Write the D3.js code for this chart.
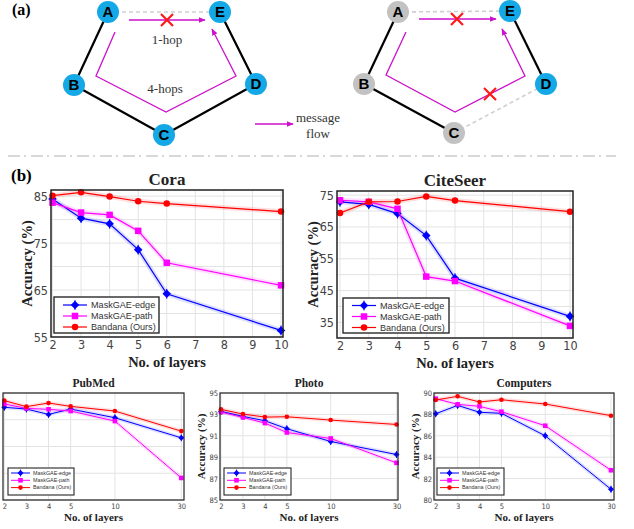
<!DOCTYPE html>
<html>
<head>
<meta charset="utf-8">
<script src="https://cdn.jsdelivr.net/npm/d3@7"></script>
<style>
  body { margin: 0; background: #fff; }
  svg { display: block; }
</style>
</head>
<body>
<div id="fig"></div>
<script>
// ---- data ----
var layersTop = [2, 3, 4, 5, 6, 10];
var layersBottom = [2, 3, 4, 5, 10, 30];
var topTicks = [2, 3, 4, 5, 6, 7, 8, 9, 10];
var seriesNames = ["MaskGAE-edge", "MaskGAE-path", "Bandana (Ours)"];

var coraEdge = [84.4, 80.3, 79.1, 73.6, 64.2, 56.4];
var coraPath = [83.6, 81.5, 81.0, 77.6, 70.8, 66.0];
var coraOurs = [85.1, 85.8, 84.9, 83.9, 83.4, 81.7];

var citeEdge = [72.9, 72.1, 69.2, 62.3, 48.9, 36.9];
var citePath = [73.4, 72.9, 70.7, 49.4, 48.0, 33.9];
var citeOurs = [69.4, 72.9, 73.0, 74.6, 73.3, 69.8];

var pubEdge = [84.93, 84.80, 84.40, 84.80, 84.15, 82.65];
var pubPath = [85.18, 84.85, 84.78, 84.65, 83.90, 79.65];
var pubOurs = [85.43, 84.98, 85.25, 85.00, 84.65, 83.15];

var photoEdge = [93.28, 92.81, 92.41, 91.66, 90.47, 89.25];
var photoPath = [93.22, 92.72, 92.19, 91.31, 90.75, 88.47];
var photoOurs = [93.47, 93.03, 92.75, 92.78, 92.47, 92.06];

var compEdge = [88.06, 88.84, 88.20, 88.10, 86.00, 81.00];
var compPath = [89.47, 88.94, 88.75, 88.25, 86.94, 82.78];
var compOurs = [89.34, 89.69, 89.16, 89.37, 88.97, 87.88];

var coraTicks = [55, 65, 75, 85];
var citeTicks = [35, 45, 55, 65, 75];
var pubTicks = [78, 80, 82, 84, 86];
var photoTicks = [85, 87, 89, 91, 93, 95];
var compTicks = [80, 82, 84, 86, 88, 90];

// ---- style ----
var colors = ["#0000ff", "#ff00ff", "#ff0000"];
var serif = "'Liberation Serif','Times New Roman',serif";
var sans = "'Liberation Sans',Arial,sans-serif";
var narrow = "'Liberation Sans Narrow','DejaVu Sans Condensed','Liberation Sans',sans-serif";
var blue = "#14a8e6", grey = "#c2c2c2", mag = "#cc11cc";

var W = 634, H = 529;
var svg = d3.select("#fig").append("svg").attr("width", W).attr("height", H);

// ================= (a) graph diagram =================
var nodeNames = ["A", "B", "C", "D", "E"];
var nodePos = [[108, 12], [74, 85], [164, 135], [256, 84], [220, 12]];

var defs = svg.append("defs");
defs.append("marker").attr("id", "ah")
   .attr("viewBox", "0 0 10 10").attr("refX", 9).attr("refY", 5)
   .attr("markerWidth", 7).attr("markerHeight", 7).attr("orient", "auto")
   .attr("markerUnits", "userSpaceOnUse")
   .append("path").attr("d", "M0,1 L10,5 L0,9 Z").attr("fill", mag);

svg.append("text").attr("x", 12).attr("y", 15).text("(a)")
   .attr("font-family", serif).attr("font-weight", "bold").attr("font-size", 16);

function drawGraph(dx, dyList, dashed, greyNodes, arrowTop, arrowLong, crosses){
   var g = svg.append("g");
   var pos = nodePos.map(function(p, i){ return [p[0] + dx, p[1] + dyList[i]]; });
   var edges = [[0,1],[1,2],[2,3],[3,4],[0,4]];
   edges.forEach(function(e){
      var key = nodeNames[e[0]] + nodeNames[e[1]];
      var isDash = dashed.indexOf(key) != -1;
      g.append("line")
         .attr("x1", pos[e[0]][0]).attr("y1", pos[e[0]][1])
         .attr("x2", pos[e[1]][0]).attr("y2", pos[e[1]][1])
         .attr("stroke", isDash ? "#cfcfcf" : "#000")
         .attr("stroke-width", isDash ? 1.6 : 2.2)
         .attr("stroke-dasharray", isDash ? "4,3" : null);
   });
   var line = d3.line();
   g.append("path").attr("d", line(arrowTop)).attr("fill", "none")
      .attr("stroke", mag).attr("stroke-width", 1.3).attr("marker-end", "url(#ah)");
   g.append("path").attr("d", line(arrowLong)).attr("fill", "none")
      .attr("stroke", mag).attr("stroke-width", 1.3).attr("marker-end", "url(#ah)");
   crosses.forEach(function(c){
      g.append("path")
         .attr("d", "M" + (c[0]-6) + "," + (c[1]-6) + "L" + (c[0]+6) + "," + (c[1]+6) +
                    "M" + (c[0]+6) + "," + (c[1]-6) + "L" + (c[0]-6) + "," + (c[1]+6))
         .attr("stroke", "#ff1a1a").attr("stroke-width", 2.2);
   });
   pos.forEach(function(p, i){
      g.append("circle").attr("cx", p[0]).attr("cy", p[1]).attr("r", 11)
         .attr("fill", greyNodes.indexOf(nodeNames[i]) != -1 ? grey : blue);
      g.append("text").attr("x", p[0]).attr("y", p[1] + 5).attr("text-anchor", "middle")
         .attr("font-family", sans).attr("font-weight", "bold").attr("font-size", 15)
         .text(nodeNames[i]);
   });
   return g;
}

drawGraph(0, [0,0,0,0,0], ["AE"], [],
   [[129, 20], [205, 20]],
   [[115, 32], [96, 76], [166, 112], [236, 76], [212, 29]],
   [[167, 20]]);
drawGraph(290, [0,-1,-2,0,-1], ["AE", "CD"], ["A", "B", "C"],
   [[419, 19], [496, 19]],
   [[406, 32], [386, 75], [455, 112], [525, 76], [502, 29]],
   [[457, 19], [490, 94]]);

var lab = [["1-hop", 167, 44], ["4-hops", 165, 93], ["message", 318, 122], ["flow", 318, 138]];
lab.forEach(function(l){
   svg.append("text").attr("x", l[1]).attr("y", l[2]).attr("text-anchor", "middle")
      .attr("font-family", serif).attr("font-size", 13).attr("fill", "#333").text(l[0]);
});
svg.append("path").attr("d", "M255,124L293,124").attr("stroke", mag)
   .attr("stroke-width", 1.3).attr("marker-end", "url(#ah)");

// separator
svg.append("line").attr("x1", 8).attr("x2", 616).attr("y1", 156).attr("y2", 156)
   .attr("stroke", "#cccccc").attr("stroke-width", 1.3).attr("stroke-dasharray", "12,4,2,5");

svg.append("text").attr("x", 11).attr("y", 181).text("(b)")
   .attr("font-family", serif).attr("font-weight", "bold").attr("font-size", 17);

// ================= (b) line charts =================
function marker(sel, k, s){
   if (k == 0) {
      sel.append("path").attr("d", d3.symbol(d3.symbolDiamond2, s * s * 1.1)())
         .attr("fill", colors[0]);
      sel.append("line").attr("y1", -s * 0.75).attr("y2", s * 0.75)
         .attr("stroke", colors[0]).attr("stroke-width", 1);
   } else if (k == 1) {
      sel.append("rect").attr("x", -s/2).attr("y", -s/2).attr("width", s).attr("height", s)
         .attr("fill", colors[1]);
   } else {
      sel.append("circle").attr("r", s * 0.5).attr("fill", colors[2]);
   }
}

function drawChart(o){
   var g = svg.append("g");
   var x = d3.scaleLinear().domain(o.xDomain).range(o.xRange);
   var y = d3.scaleLinear().domain(o.yDomain).range([o.b, o.t]);

   // grid
   g.selectAll(".gx").data(o.xTicks).enter().append("line")
      .attr("x1", function(d){ return x(d); }).attr("x2", function(d){ return x(d); })
      .attr("y1", o.t).attr("y2", o.b).attr("stroke", "#e3e3e3").attr("stroke-width", 1);
   g.selectAll(".gy").data(o.yGrid).enter().append("line")
      .attr("y1", function(d){ return y(d); }).attr("y2", function(d){ return y(d); })
      .attr("x1", o.l).attr("x2", o.r).attr("stroke", "#e3e3e3").attr("stroke-width", 1);

   // series
   var line = d3.line().x(function(d){ return x(d[0]); }).y(function(d){ return y(d[1]); });
   o.series.forEach(function(vals, k){
      var pts = o.xVals.map(function(v, i){ return [v, vals[i]]; });
      g.append("path").attr("d", line(pts)).attr("fill", "none")
         .attr("stroke", colors[k]).attr("stroke-opacity", 0.13)
         .attr("stroke-width", o.halo).attr("stroke-linejoin", "round");
   });
   o.series.forEach(function(vals, k){
      var pts = o.xVals.map(function(v, i){ return [v, vals[i]]; });
      g.append("path").attr("d", line(pts)).attr("fill", "none")
         .attr("stroke", colors[k]).attr("stroke-width", o.lw);
      g.selectAll(".m" + k).data(pts).enter().append("g")
         .attr("transform", function(d){ return "translate(" + x(d[0]) + "," + y(d[1]) + ")"; })
         .each(function(){ marker(d3.select(this), k, o.ms); });
   });

   // box
   g.append("rect").attr("x", o.l).attr("y", o.t).attr("width", o.r - o.l).attr("height", o.b - o.t)
      .attr("fill", "none").attr("stroke", "#222").attr("stroke-width", o.bw);

   // axes
   var xa = g.append("g").attr("transform", "translate(0," + o.b + ")")
      .call(d3.axisBottom(x).tickValues(o.xTicks).tickSize(0).tickPadding(o.tp).tickFormat(d3.format("d")));
   xa.select(".domain").remove();
   xa.selectAll("text").attr("font-family", narrow).attr("font-size", o.tf).attr("fill", "#444");
   if (o.showY) {
      var ya = g.append("g").attr("transform", "translate(" + o.l + ",0)")
         .call(d3.axisLeft(y).tickValues(o.yTicks).tickSize(0).tickPadding(o.tpy).tickFormat(d3.format("d")));
      ya.select(".domain").remove();
      ya.selectAll("text").attr("font-family", narrow).attr("font-size", o.tf).attr("fill", "#444");
      g.append("text").attr("transform", "translate(" + o.ylx + "," + ((o.t + o.b) / 2) + ") rotate(-90)")
         .attr("text-anchor", "middle").attr("dy", "0.35em")
         .attr("font-family", serif).attr("font-weight", "bold").attr("font-size", o.labSize)
         .attr("fill", "#222").text("Accuracy (%)");
   }

   // labels
   g.append("text").attr("x", (o.l + o.r) / 2).attr("y", o.t - o.titleGap).attr("text-anchor", "middle")
      .attr("font-family", serif).attr("font-weight", "bold").attr("font-size", o.titleSize)
      .attr("fill", "#222").text(o.title);
   g.append("text").attr("x", (o.l + o.r) / 2).attr("y", o.b + o.xlGap).attr("text-anchor", "middle")
      .attr("font-family", serif).attr("font-weight", "bold").attr("font-size", o.labSize)
      .attr("fill", "#222").text("No. of layers");

   // legend
   var L = o.leg;
   var lg = g.append("g");
   lg.append("rect").attr("x", L.x).attr("y", L.y).attr("width", L.w).attr("height", L.h)
      .attr("fill", "#fff").attr("stroke", "#222").attr("stroke-width", o.bw * 0.9);
   seriesNames.forEach(function(nm, k){
      var yy = L.y + L.pad + k * L.row;
      lg.append("line").attr("x1", L.x + L.l0).attr("x2", L.x + L.l1).attr("y1", yy).attr("y2", yy)
         .attr("stroke", colors[k]).attr("stroke-width", o.lw);
      marker(lg.append("g").attr("transform", "translate(" + (L.x + (L.l0 + L.l1) / 2) + "," + yy + ")"), k, o.ms);
      lg.append("text").attr("x", L.x + L.tx).attr("y", yy).attr("dy", "0.35em")
         .attr("font-family", sans).attr("font-size", L.fs).attr("fill", "#333").text(nm);
   });
}

var topCommon = {xDomain: [2, 10], xVals: layersTop, xTicks: topTicks, showY: true,
   lw: 1.2, ms: 6.5, halo: 5, bw: 1.5, tf: 12.5, tp: 3, tpy: 3,
   titleGap: 5, titleSize: 17, labSize: 14.5, xlGap: 30};

drawChart(Object.assign({}, topCommon, {
   l: 51, r: 283, t: 190, b: 337, xRange: [52.5, 281],
   yDomain: [55, 86.3], yTicks: coraTicks, yGrid: d3.range(55, 86, 5),
   series: [coraEdge, coraPath, coraOurs], title: "Cora", ylx: 27,
   leg: {x: 54, y: 297, w: 105, h: 36, pad: 8, row: 11, l0: 9, l1: 33, tx: 37, fs: 9.1}
}));
drawChart(Object.assign({}, topCommon, {
   l: 337, r: 573, t: 191, b: 338, xRange: [340, 570],
   yDomain: [30.1, 76.3], yTicks: citeTicks, yGrid: d3.range(35, 76, 5),
   series: [citeEdge, citePath, citeOurs], title: "CiteSeer", ylx: 313,
   leg: {x: 343, y: 298, w: 106, h: 35, pad: 7.5, row: 11, l0: 9, l1: 33, tx: 37, fs: 9.1}
}));

var slots = [0, 1, 2, 3, 5, 8];
var botCommon = {xDomain: layersBottom, xVals: layersBottom, xTicks: layersBottom, showY: true,
   lw: 1, ms: 4.6, halo: 4, bw: 1.2, tf: 7.5, tp: 4, tpy: 2,
   titleGap: 6, titleSize: 11.5, labSize: 11, xlGap: 21};
function slotRange(a, b){ return slots.map(function(s){ return a + s * (b - a) / 8; }); }

// PubMed's y ticks and y label lie off the left edge of the figure
drawChart(Object.assign({}, botCommon, {
   l: 3, r: 184, t: 393, b: 500, xRange: slotRange(4.3, 181.3), showY: false,
   yDomain: [78, 86], yTicks: pubTicks, yGrid: pubTicks,
   series: [pubEdge, pubPath, pubOurs], title: "PubMed", ylx: -14,
   leg: {x: 8, y: 468, w: 66, h: 27, pad: 5, row: 7.3, l0: 3, l1: 22, tx: 25, fs: 5.4}
}));
drawChart(Object.assign({}, botCommon, {
   l: 220, r: 398, t: 393, b: 500, xRange: slotRange(221, 396.5),
   yDomain: [85, 95], yTicks: photoTicks, yGrid: photoTicks,
   series: [photoEdge, photoPath, photoOurs], title: "Photo", ylx: 201,
   leg: {x: 224, y: 468, w: 67, h: 27, pad: 5, row: 7.3, l0: 3, l1: 22, tx: 25, fs: 5.4}
}));
drawChart(Object.assign({}, botCommon, {
   l: 434, r: 614, t: 393, b: 500, xRange: slotRange(435.7, 611),
   yDomain: [80, 90], yTicks: compTicks, yGrid: compTicks,
   series: [compEdge, compPath, compOurs], title: "Computers", ylx: 415,
   leg: {x: 437, y: 468, w: 67, h: 27, pad: 5, row: 7.3, l0: 3, l1: 22, tx: 25, fs: 5.4}
}));
</script>
</body>
</html>
